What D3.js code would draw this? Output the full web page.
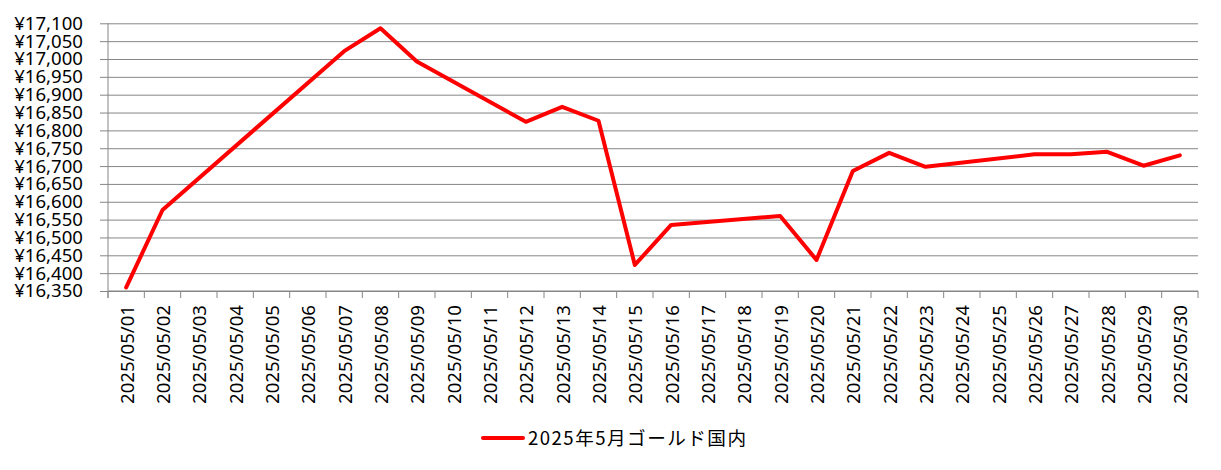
<!DOCTYPE html>
<html><head><meta charset="utf-8">
<script src="https://cdn.jsdelivr.net/npm/d3@7"></script>
<style>body{margin:0;background:#fff}svg{display:block}</style>
</head><body>
<script>
const categories = ["2025/05/01","2025/05/02","2025/05/03","2025/05/04","2025/05/05","2025/05/06","2025/05/07","2025/05/08","2025/05/09","2025/05/10","2025/05/11","2025/05/12","2025/05/13","2025/05/14","2025/05/15","2025/05/16","2025/05/17","2025/05/18","2025/05/19","2025/05/20","2025/05/21","2025/05/22","2025/05/23","2025/05/24","2025/05/25","2025/05/26","2025/05/27","2025/05/28","2025/05/29","2025/05/30"];
const values = [16360,16577,null,null,null,null,17022,17086,16993,null,null,16824,16866,16827,16423,16535,null,null,16560,16437,16686,16737,16698,null,null,16733,16733,16740,16701,16730];
const yTicks = [16350,16400,16450,16500,16550,16600,16650,16700,16750,16800,16850,16900,16950,17000,17050,17100];
const seriesName = "2025年5月ゴールド国内";

const W = 1221, H = 470;
const L = 108, R = 1198, T = 23.3, B = 291;
const font = "'Noto Sans', 'DejaVu Sans', sans-serif";
const fs = 18.6;
const svg = d3.select("body").append("svg").attr("width", W).attr("height", H);

const x = d3.scaleBand().domain(categories).range([L, R]);
const y = d3.scaleLinear().domain([16350, 17100]).range([B, T]);

// gridlines + y ticks
const yAxis = d3.axisLeft(y).tickValues(yTicks).tickSize(8).tickPadding(17)
  .tickFormat(d => "¥" + d3.format(",")(d));
const gy = svg.append("g").attr("transform", `translate(${L},0)`).call(yAxis);
gy.select(".domain").remove();
gy.selectAll(".tick line").attr("stroke", "#868686").attr("x2", -8).attr("x1", R - L);
gy.selectAll("text").attr("font-family", font).attr("font-size", fs).attr("fill", "#000");

// x axis line and ticks at category boundaries
svg.append("line").attr("x1", L).attr("x2", R).attr("y1", B).attr("y2", B).attr("stroke", "#868686");
svg.append("line").attr("x1", L).attr("x2", L).attr("y1", T).attr("y2", B + 7).attr("stroke", "#868686");
const bounds = categories.map(c => x(c)).concat([R]);
svg.append("g").selectAll("line").data(bounds).join("line")
  .attr("x1", d => d).attr("x2", d => d).attr("y1", B).attr("y2", B + 7).attr("stroke", "#868686");

// x labels rotated
svg.append("g").selectAll("text").data(categories).join("text")
  .attr("transform", d => `translate(${x(d) + x.bandwidth()/2 + 7.5},${B + 14}) rotate(-90)`)
  .attr("text-anchor", "end")
  .attr("font-family", font).attr("font-size", fs).attr("fill", "#000")
  .text(d => d);

// line
const pts = categories.map((c, i) => ({c, v: values[i]})).filter(d => d.v !== null);
const line = d3.line().x(d => x(d.c) + x.bandwidth()/2).y(d => y(d.v));
svg.append("path").datum(pts).attr("d", line).attr("fill", "none")
  .attr("stroke", "#FF0000").attr("stroke-width", 4).attr("stroke-linejoin", "round").attr("stroke-linecap", "round");

// legend
const lg = svg.append("g");
lg.append("line").attr("x1", 483).attr("x2", 523).attr("y1", 438).attr("y2", 438)
  .attr("stroke", "#FF0000").attr("stroke-width", 4).attr("stroke-linecap", "round");
lg.append("text").attr("x", 528).attr("y", 445).attr("font-family", "'Noto Sans CJK JP', " + font)
  .attr("font-size", fs).attr("fill", "#000")
  .attr("textLength", 218).attr("lengthAdjust", "spacing").text(seriesName);
</script>
</body></html>
